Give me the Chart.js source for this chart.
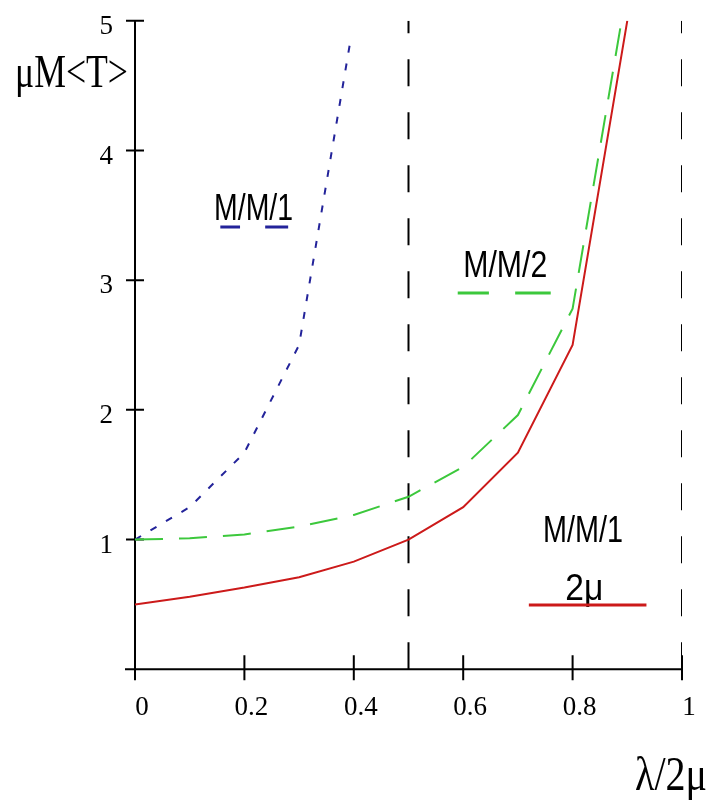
<!DOCTYPE html>
<html>
<head>
<meta charset="utf-8">
<title>Mean time in system</title>
<script src="https://cdn.jsdelivr.net/npm/chart.js@4.4.0/dist/chart.umd.min.js"></script>
<style>
    html, body { margin: 0; padding: 0; background: #fff; }
</style>
</head>
<body>
<canvas id="myChart" width="713" height="800"></canvas>
<script>
// load lambda/2mu on x, mu*M<T> on y
const rho = [0, 0.1, 0.2, 0.3, 0.4, 0.5, 0.6, 0.7, 0.8, 0.9];
const rhoSingle = [0, 0.1, 0.2, 0.3, 0.394];
const tSingle = [1, 1.25, 1.67, 2.5, 4.85];               // M/M/1, rate mu
const tTwoServers = [1, 1.01, 1.04, 1.1, 1.19, 1.33, 1.56, 1.96, 2.78, 5.26]; // M/M/2
const tSingleFast = [0.5, 0.56, 0.63, 0.71, 0.83, 1.0, 1.25, 1.67, 2.5, 5.0]; // M/M/1, rate 2mu
const limitLines = [0.5, 1];
const xTicks = [0, 0.2, 0.4, 0.6, 0.8, 1];
const xTickLabels = ['0', '0.2', '0.4', '0.6', '0.8', '1'];
const yTicks = [1, 2, 3, 4, 5];
const yTickLabels = ['1', '2', '3', '4', '5'];

const BLUE = '#23239a';
const GREEN = '#3cc83c';
const RED = '#cc1a1a';

const toPoints = (xs, ys) => xs.map((v, i) => ({ x: v, y: ys[i] }));

// text drawn squeezed to a given width (the original fonts are narrow)
function drawFitted(ctx, text, left, baseline, font, width, color) {
    ctx.save();
    ctx.font = font;
    ctx.fillStyle = color || '#000';
    ctx.textAlign = 'left';
    ctx.textBaseline = 'alphabetic';
    const w = ctx.measureText(text).width;
    ctx.translate(left, baseline);
    ctx.scale(width / w, 1);
    ctx.fillText(text, 0, 0);
    ctx.restore();
}

const notes = [
    { text: 'M/M/1', x: 0.1445, y: 3.464, w: 79 },
    { text: 'M/M/2', x: 0.6, y: 3.025, w: 84 },
    { text: 'M/M/1', x: 0.746, y: 0.98, w: 80 },
    { text: '2\u03bc', x: 0.7865, y: 0.534, w: 38 }
];
const keys = [
    { color: BLUE, y: 3.41, segs: [[0.156, 0.192], [0.238, 0.28]] },
    { color: GREEN, y: 2.9, segs: [[0.59, 0.647], [0.695, 0.76]] },
    { color: RED, y: 0.496, segs: [[0.72, 0.935]] }
];

const sketchPlugin = {
    id: 'sketch',
    beforeDatasetsDraw(chart) {
        const { ctx, scales: { x, y } } = chart;
        const x0 = x.getPixelForValue(0);
        const y0 = y.getPixelForValue(0);
        ctx.save();
        ctx.strokeStyle = '#000';
        ctx.lineWidth = 2;
        ctx.beginPath();
        ctx.moveTo(x0 - 10, y0);
        ctx.lineTo(x.getPixelForValue(1) + 1, y0);
        ctx.moveTo(x0, y0 + 11);
        ctx.lineTo(x0, y.getPixelForValue(5));
        xTicks.forEach(v => {
            const px = x.getPixelForValue(v);
            ctx.moveTo(px, y0 - 14);
            ctx.lineTo(px, y0 + 11);
        });
        yTicks.forEach(v => {
            const py = y.getPixelForValue(v);
            ctx.moveTo(x0 - 9, py);
            ctx.lineTo(x0 + 9, py);
        });
        ctx.stroke();
        ctx.restore();
    },
    afterDatasetsDraw(chart) {
        const { ctx, scales: { x, y } } = chart;
        const sans = '37px "Liberation Sans", Arial, sans-serif';
        const serif = '46px "Liberation Serif", "Times New Roman", serif';

        notes.forEach(n => {
            drawFitted(ctx, n.text, x.getPixelForValue(n.x), y.getPixelForValue(n.y), sans, n.w);
        });

        ctx.save();
        ctx.lineWidth = 3;
        keys.forEach(k => {
            ctx.strokeStyle = k.color;
            ctx.beginPath();
            k.segs.forEach(s => {
                ctx.moveTo(x.getPixelForValue(s[0]), y.getPixelForValue(k.y));
                ctx.lineTo(x.getPixelForValue(s[1]), y.getPixelForValue(k.y));
            });
            ctx.stroke();
        });
        ctx.restore();

        // axis titles
        drawFitted(ctx, '\u03bcM<T>', 15, 87, serif, 113);
        drawFitted(ctx, '\u03bb/2\u03bc', 635, 790, '48px "Liberation Serif", serif', 72);
    }
};

const ctx = document.getElementById('myChart').getContext('2d');
const myChart = new Chart(ctx, {
    type: 'line',
    data: {
        datasets: [
            {
                label: 'M/M/1 (2\u03bc)',
                data: toPoints(rho, tSingleFast),
                borderColor: RED,
                borderWidth: 2
            },
            {
                label: 'M/M/2',
                data: toPoints(rho, tTwoServers),
                borderColor: GREEN,
                borderWidth: 2,
                borderDash: [28, 16]
            },
            {
                label: 'M/M/1',
                data: toPoints(rhoSingle, tSingle),
                borderColor: BLUE,
                borderWidth: 2,
                borderDash: [7, 11]
            },
            ...limitLines.map(v => ({
                label: 'limit ' + v,
                data: [{ x: v, y: 0 }, { x: v, y: 5 }],
                borderColor: '#000',
                borderWidth: 2,
                borderDash: [27, 26]
            }))
        ]
    },
    options: {
        responsive: false,
        devicePixelRatio: 1,
        animation: false,
        layout: { padding: { top: 20.7, right: 31, left: 0, bottom: 0 } },
        elements: {
            point: { radius: 0 },
            line: { tension: 0, fill: false }
        },
        plugins: {
            legend: { display: false },
            tooltip: { enabled: false }
        },
        scales: {
            x: {
                type: 'linear',
                min: 0,
                max: 1,
                grid: { display: false, drawTicks: false },
                border: { display: false },
                afterBuildTicks: s => { s.ticks = xTicks.map(v => ({ value: v })); },
                afterFit: s => {
                    s.height = 130.7;
                    s.paddingLeft = 0;
                    s.paddingRight = 0;
                },
                ticks: {
                    autoSkip: false,
                    maxRotation: 0,
                    padding: 22,
                    labelOffset: 7,
                    color: '#000',
                    font: { family: '"Liberation Serif", serif', size: 27 },
                    callback: (v, i) => xTickLabels[i]
                }
            },
            y: {
                type: 'linear',
                min: 0,
                max: 5,
                grid: { display: false, drawTicks: false },
                border: { display: false },
                afterBuildTicks: s => { s.ticks = yTicks.map(v => ({ value: v })); },
                afterFit: s => {
                    s.width = 135;
                    s.paddingTop = 0;
                    s.paddingBottom = 0;
                },
                ticks: {
                    padding: 22,
                    labelOffset: 6,
                    color: '#000',
                    font: { family: '"Liberation Serif", serif', size: 27 },
                    callback: (v, i) => yTickLabels[i]
                }
            }
        }
    },
    plugins: [sketchPlugin]
});
</script>
</body>
</html>
